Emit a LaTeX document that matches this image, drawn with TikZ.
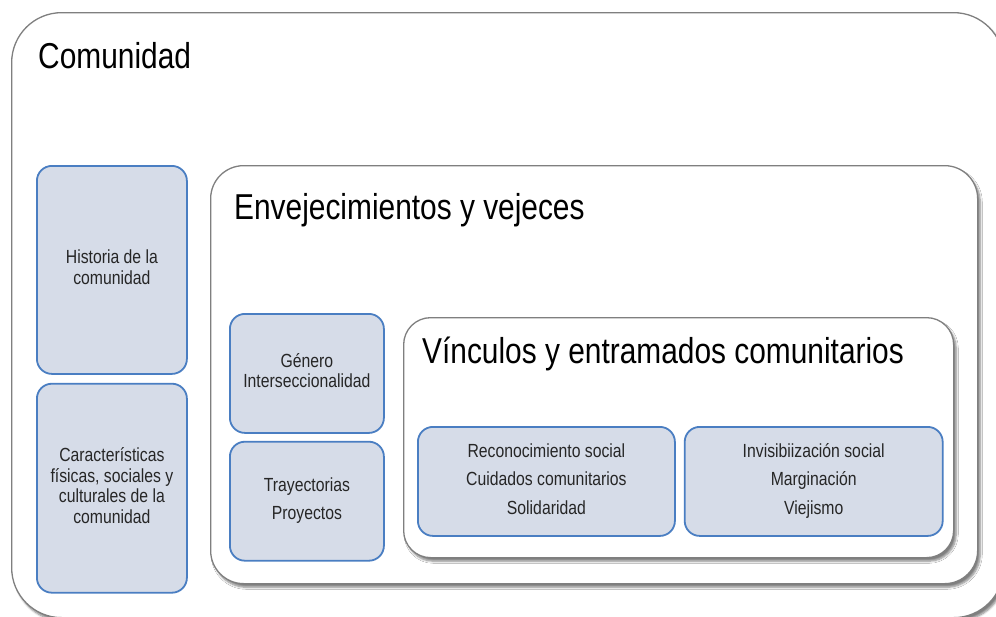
\documentclass[tikz,border=0pt]{standalone}
\usepackage{fontspec}
\setmainfont{Liberation Sans}[FakeStretch=0.83]
\usetikzlibrary{positioning,shadows.blur}

\definecolor{boxfill}{HTML}{D6DCE8}
\definecolor{boxline}{HTML}{4A7EC2}
\definecolor{frameline}{HTML}{7F7F7F}

\tikzset{
  frame/.style={draw=frameline, line width=1.3pt, fill=white, anchor=north west,
    blur shadow={shadow xshift=2.5pt, shadow yshift=-3.5pt, shadow blur steps=6, shadow opacity=50}},
  bluebox/.style={draw=boxline, line width=1.8pt, fill=boxfill, rounded corners=15pt,
    align=center, inner sep=2pt, text=black!85, font=\fontsize{19}{20.5}\selectfont},
  title/.style={anchor=base west, inner sep=0pt, font=\fontsize{36}{40}\selectfont}
}

\begin{document}
\begin{tikzpicture}[x=1pt,y=-1pt]
  \useasboundingbox (0,0) rectangle (996,616);
  % outer frame
  \node[frame, rounded corners=50pt, minimum width=992pt, minimum height=605pt] (comunidad) at (11,12) {};
  \node[title] (tcomunidad) at (38,68) {Comunidad};
  \node[bluebox, anchor=north west, minimum width=150pt, minimum height=208pt] (historia) at (36,165) {\strut Historia de la\\comunidad\strut};
  \node[bluebox, minimum width=150pt, minimum height=209pt] (caracteristicas) [below=8pt of historia] {\strut Características\\físicas, sociales y\\culturales de la\\comunidad\strut};
  % second level
  \node[frame, rounded corners=33pt, minimum width=767pt, minimum height=418pt] (envejec) at (210,165) {};
  \node[title] (tenvejec) at (234,219) {Envejecimientos y vejeces};
  \node[bluebox, anchor=north west, minimum width=154pt, minimum height=119pt] (genero) at (229,313) {\strut Género\\Interseccionalidad\strut};
  \node[bluebox, minimum width=154pt, minimum height=119pt] (trayectorias) [below=7pt of genero] {\strut Trayectorias\\[7pt]Proyectos\strut};
  % third level
  \node[frame, rounded corners=27pt, minimum width=550pt, minimum height=240pt] (vinculos) at (403,317) {};
  \node[title] (tvinculos) at (422,363) {Vínculos y entramados comunitarios};
  \node[bluebox, anchor=north west, minimum width=257pt, minimum height=109pt] (reconoc) at (417,426) {\strut Reconocimiento social\\[8pt]Cuidados comunitarios\\[8pt]Solidaridad\strut};
  \node[bluebox, minimum width=258pt, minimum height=109pt] (invisib) [right=8pt of reconoc] {\strut Invisibiización social\\[8pt]Marginación\\[8pt]Viejismo\strut};
\end{tikzpicture}
\end{document}
